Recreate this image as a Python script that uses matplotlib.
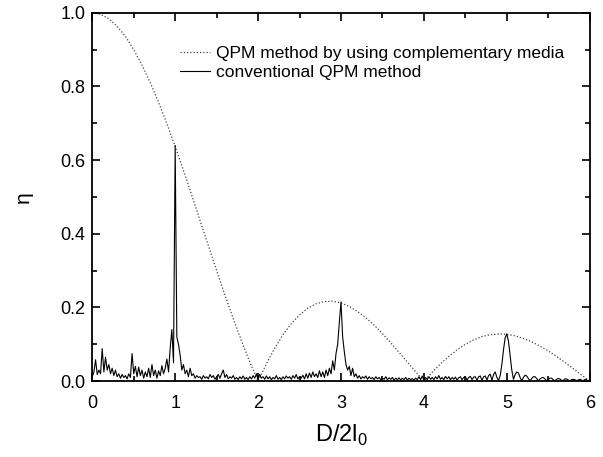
import numpy as np
import matplotlib
matplotlib.use("Agg")
import matplotlib.pyplot as plt
from matplotlib.ticker import MultipleLocator

plt.rcParams['font.family'] = ['Liberation Sans', 'DejaVu Sans']
plt.rcParams['mathtext.fontset'] = 'custom'
plt.rcParams['mathtext.rm'] = 'Liberation Sans'

# x grids (D/2l0)
x_comp = np.linspace(0, 6, 61)
x_conv = np.linspace(0, 6, 301)

# QPM method by using complementary media (dotted)
eta_comp = [
    1.000, 0.996, 0.984, 0.963, 0.936, 0.900, 0.858, 0.810, 0.757, 0.699,
    0.637, 0.572, 0.505, 0.436, 0.368, 0.300, 0.234, 0.170, 0.109, 0.052,
    0.000, 0.047, 0.089, 0.126, 0.156, 0.180, 0.198, 0.210, 0.216, 0.217,
    0.212, 0.203, 0.189, 0.172, 0.152, 0.129, 0.104, 0.078, 0.052, 0.026,
    0.000, 0.024, 0.047, 0.067, 0.085, 0.100, 0.112, 0.121, 0.126, 0.128,
    0.127, 0.123, 0.116, 0.107, 0.095, 0.082, 0.067, 0.051, 0.034, 0.017,
    0.000,
]

# conventional QPM method (solid)
eta_conv = [
    0.012, 0.025, 0.058, 0.018, 0.030, 0.020, 0.088, 0.025, 0.065, 0.030,
    0.045, 0.020, 0.035, 0.015, 0.030, 0.012, 0.020, 0.008, 0.018, 0.010,
    0.015, 0.006, 0.020, 0.010, 0.075, 0.020, 0.040, 0.012, 0.038, 0.015,
    0.030, 0.008, 0.025, 0.012, 0.035, 0.010, 0.045, 0.015, 0.030, 0.008,
    0.028, 0.015, 0.042, 0.020, 0.035, 0.060, 0.025, 0.090, 0.140, 0.050,
    0.640, 0.120, 0.100, 0.070, 0.030, 0.045, 0.020, 0.030, 0.012, 0.035,
    0.015, 0.020, 0.008, 0.015, 0.010, 0.012, 0.005, 0.015, 0.008, 0.012,
    0.006, 0.018, 0.010, 0.015, 0.005, 0.012, 0.018, 0.008, 0.020, 0.030,
    0.010, 0.018, 0.006, 0.012, 0.008, 0.015, 0.005, 0.010, 0.004, 0.012,
    0.006, 0.014, 0.005, 0.010, 0.004, 0.012, 0.006, 0.015, 0.008, 0.020,
    0.005, 0.018, 0.008, 0.012, 0.005, 0.014, 0.006, 0.012, 0.004, 0.010,
    0.006, 0.015, 0.005, 0.010, 0.004, 0.012, 0.006, 0.014, 0.008, 0.012,
    0.005, 0.015, 0.008, 0.018, 0.006, 0.012, 0.008, 0.016, 0.006, 0.020,
    0.008, 0.022, 0.010, 0.025, 0.012, 0.020, 0.010, 0.028, 0.012, 0.025,
    0.010, 0.030, 0.015, 0.035, 0.020, 0.055, 0.030, 0.075, 0.100, 0.160,
    0.215, 0.120, 0.080, 0.045, 0.030, 0.040, 0.015, 0.035, 0.012, 0.020,
    0.008, 0.015, 0.006, 0.012, 0.008, 0.014, 0.005, 0.012, 0.006, 0.010,
    0.004, 0.012, 0.006, 0.010, 0.004, 0.008, 0.005, 0.012, 0.004, 0.009,
    0.005, 0.010, 0.003, 0.008, 0.004, 0.009, 0.003, 0.008, 0.004, 0.010,
    0.003, 0.008, 0.004, 0.007, 0.003, 0.008, 0.004, 0.012, 0.004, 0.014,
    0.003, 0.010, 0.004, 0.012, 0.005, 0.010, 0.004, 0.012, 0.006, 0.015,
    0.005, 0.010, 0.004, 0.013, 0.006, 0.012, 0.004, 0.010, 0.005, 0.011,
    0.003, 0.009, 0.012, 0.004, 0.010, 0.012, 0.003, 0.010, 0.013, 0.004,
    0.011, 0.012, 0.002, 0.012, 0.014, 0.002, 0.012, 0.014, 0.003, 0.015,
    0.019, 0.002, 0.018, 0.025, 0.010, 0.002, 0.015, 0.045, 0.085, 0.118,
    0.128, 0.108, 0.070, 0.030, 0.005, 0.018, 0.025, 0.022, 0.010, 0.001,
    0.010, 0.016, 0.014, 0.007, 0.001, 0.007, 0.012, 0.012, 0.007, 0.001,
    0.006, 0.009, 0.010, 0.006, 0.001, 0.005, 0.008, 0.008, 0.004, 0.001,
    0.005, 0.007, 0.006, 0.002, 0.002, 0.006, 0.006, 0.003, 0.001, 0.004,
    0.005, 0.004, 0.001, 0.003, 0.005, 0.003, 0.001, 0.004, 0.004, 0.001,
    0.003,
]

labels = ["QPM method by using complementary media", "conventional QPM method"]

fig = plt.figure(figsize=(6.03, 4.57), dpi=100)
ax = fig.add_axes([0.153, 0.166, 0.825, 0.806])

ax.plot(x_comp, eta_comp, color='#444444', lw=0.9, linestyle=(0, (1, 1.6)), label=labels[0])
ax.plot(x_conv, eta_conv, color='black', lw=0.8, label=labels[1])

ax.set_xlim(0, 6)
ax.set_ylim(0, 1.0)
ax.xaxis.set_major_locator(MultipleLocator(1))
ax.xaxis.set_minor_locator(MultipleLocator(0.5))
ax.yaxis.set_major_locator(MultipleLocator(0.2))
ax.yaxis.set_minor_locator(MultipleLocator(0.1))
ax.yaxis.set_major_formatter(matplotlib.ticker.FormatStrFormatter('%.1f'))
ax.tick_params(which='both', direction='in', top=True, right=True, width=1.2,
               labelsize=13, colors='black')
ax.tick_params(which='major', length=6)
ax.tick_params(which='minor', length=3.5)
ax.tick_params(axis='x', pad=10)
ax.tick_params(axis='y', pad=5)
for s in ax.spines.values():
    s.set_linewidth(1.3)

ax.set_xlabel(r'D/2l$_\mathregular{0}$', fontsize=17, labelpad=8)
ax.set_ylabel('η', fontsize=15, labelpad=20)

leg = ax.legend(loc='upper left', bbox_to_anchor=(0.177, 0.911), frameon=False,
                fontsize=12.5, handlelength=1.72, handletextpad=0.35,
                labelspacing=0.25, borderpad=0, borderaxespad=0)

fig.savefig('out.png', dpi=100)
